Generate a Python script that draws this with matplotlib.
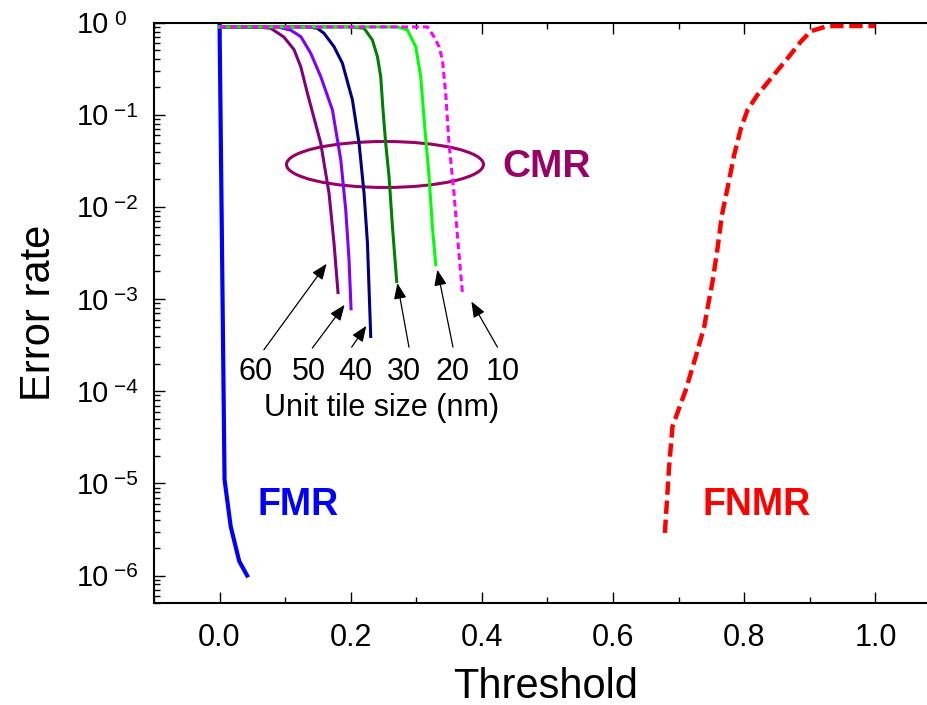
import matplotlib
matplotlib.use("Agg")
import matplotlib.pyplot as plt
from matplotlib.patches import Ellipse
from matplotlib.ticker import MultipleLocator, LogLocator, NullFormatter

plt.rcParams["font.family"] = ["Liberation Sans", "DejaVu Sans"]

# FMR (false match rate)
fmr_thr = [0.0, 0.0076, 0.017, 0.030, 0.042]
fmr_err = [0.95, 1.1e-5, 3.4e-6, 1.43e-6, 1.0e-6]

# FNMR (false non-match rate)
fnmr_thr = [0.679, 0.6855, 0.6906, 0.711, 0.7262, 0.739, 0.743, 0.7517, 0.7593,
            0.766, 0.7745, 0.7846, 0.795, 0.805, 0.820, 0.843, 0.866, 0.886,
            0.9016, 0.927, 1.0]
fnmr_err = [2.9e-6, 1.53e-5, 4.15e-5, 1.04e-4, 2.4e-4, 5.0e-4, 7.3e-4, 1.55e-3,
            3.57e-3, 8.2e-3, 0.016, 0.0367, 0.0716, 0.113, 0.164, 0.26, 0.41,
            0.62, 0.81, 0.92, 0.92]

# CMR for each unit tile size
cmr60_thr = [0.0, 0.0628, 0.078, 0.098, 0.1136, 0.1238, 0.134, 0.1543, 0.1669, 0.1745, 0.1806]
cmr60_err = [0.9, 0.89, 0.87, 0.70, 0.51, 0.333, 0.171, 0.0492, 0.0141, 0.00405, 0.00118]

cmr50_thr = [0.0, 0.0883, 0.1085, 0.124, 0.139, 0.1543, 0.1721, 0.1848, 0.1924, 0.1974, 0.2005]
cmr50_err = [0.9, 0.90, 0.83, 0.705, 0.466, 0.26, 0.113, 0.0325, 0.0093, 0.00267, 7.85e-4]

cmr40_thr = [0.0, 0.134, 0.1492, 0.1593, 0.1745, 0.1873, 0.2026, 0.2127, 0.2203, 0.2255, 0.2305]
cmr40_err = [0.9, 0.90, 0.87, 0.767, 0.549, 0.363, 0.145, 0.0492, 0.0141, 0.00405, 3.93e-4]

cmr30_thr = [0.0, 0.2, 0.2203, 0.233, 0.2407, 0.2457, 0.2492, 0.2533, 0.2584, 0.2636, 0.2701]
cmr30_err = [0.9, 0.9, 0.87, 0.65, 0.428, 0.26, 0.113, 0.0492, 0.0214, 0.00613, 1.55e-3]

cmr20_thr = [0.0, 0.2712, 0.2864, 0.2991, 0.3067, 0.3128, 0.3194, 0.3245, 0.3296]
cmr20_err = [0.9, 0.90, 0.834, 0.549, 0.26, 0.0745, 0.0214, 0.00613, 2.36e-3]

cmr10_thr = [0.0, 0.2808, 0.3169, 0.327, 0.3346, 0.3398, 0.3448, 0.3498, 0.3575, 0.3636, 0.3703]
cmr10_err = [0.9, 0.9, 0.9, 0.705, 0.549, 0.394, 0.171, 0.0492, 0.0141, 0.00405, 1.18e-3]

tile_sizes = ["60", "50", "40", "30", "20", "10"]
tile_colors = ["#800080", "#8000ff", "#000080", "#008000", "#00ff00", "#ff00ff"]

# arrows pointing from the size labels to the curve ends
arrow_tip_x = [0.1632, 0.1907, 0.2238, 0.2711, 0.3321, 0.384]
arrow_tip_y = [2.42e-3, 8.67e-4, 5.13e-4, 1.49e-3, 2.08e-3, 9.42e-4]
arrow_tail_x = [0.0676, 0.1414, 0.2014, 0.2888, 0.3559, 0.4237]
arrow_tail_y = [2.82e-4, 2.94e-4, 3.01e-4, 3.01e-4, 3.01e-4, 3.01e-4]
label_x = [0.0554, 0.1358, 0.2075, 0.2812, 0.355, 0.4313]

cmr_color = "#990066"

fig = plt.figure(figsize=(9.27, 7.05), dpi=100)
ax = fig.add_axes([0.1661, 0.1443, 0.849, 0.8235])

ax.plot(fmr_thr, fmr_err, color="#0000ff", lw=3)
ax.plot(fnmr_thr, fnmr_err, color="#ff0000", lw=3.2, dashes=(3, 1.3))

cmr_curves = [(cmr60_thr, cmr60_err), (cmr50_thr, cmr50_err), (cmr40_thr, cmr40_err),
              (cmr30_thr, cmr30_err), (cmr20_thr, cmr20_err), (cmr10_thr, cmr10_err)]
for (t, e), c, size in zip(cmr_curves, tile_colors, tile_sizes):
    if size == "10":
        ax.plot(t, e, color=c, lw=2.2, dashes=(2.2, 1.3))
    else:
        ax.plot(t, e, color=c, lw=2.2)

ax.set_yscale("log")
ax.set_xlim(-0.1, 1.1)
ax.set_ylim(5e-7, 1)

ax.xaxis.set_major_locator(MultipleLocator(0.2))
ax.xaxis.set_minor_locator(MultipleLocator(0.1))
ax.yaxis.set_major_locator(LogLocator(base=10, numticks=20))
ax.yaxis.set_minor_locator(LogLocator(base=10, subs=range(2, 10), numticks=20))
ax.yaxis.set_minor_formatter(NullFormatter())
ax.xaxis.set_major_formatter(plt.FuncFormatter(lambda v, p: f"{v:.1f}"))

ax.tick_params(which="both", direction="in", top=True, right=True, width=1.0)
ax.tick_params(which="major", length=8)
ax.tick_params(which="minor", length=4.3)
ax.tick_params(axis="x", labelsize=22, pad=14.5)
ax.tick_params(axis="y", labelleft=False)
for sp in ax.spines.values():
    sp.set_linewidth(1.5)

# y tick labels as 10 with raised exponent
for e in range(0, -7, -1):
    ax.annotate("10", xy=(0, 10.0 ** e), xycoords=("axes fraction", "data"),
                xytext=(-32.4, -7.5), textcoords="offset points",
                ha="right", va="baseline", fontsize=21)
    sup = "0" if e == 0 else "\u2212" + str(-e)
    ax.annotate(sup, xy=(0, 10.0 ** e), xycoords=("axes fraction", "data"),
                xytext=(-28.8, -1.3), textcoords="offset points",
                ha="left", va="baseline", fontsize=15)

ax.set_xlabel("Threshold", fontsize=30)
ax.xaxis.set_label_coords(0.4978, -0.109)
ax.xaxis.label.set_verticalalignment("top")
ax.set_ylabel("Error rate", fontsize=30)
ax.yaxis.set_label_coords(-0.121, 0.4995)

ax.add_patch(Ellipse((0.2935, 0.7558), 0.2503, 0.0792, transform=ax.transAxes,
                     fill=False, edgecolor=cmr_color, lw=2.2))
ax.text(0.4313, 0.0214, "CMR", color=cmr_color, fontsize=28, fontweight="bold",
        ha="left", va="baseline")
ax.text(0.0584, 4.58e-6, "FMR", color="#0000ff", fontsize=27, fontweight="bold",
        ha="left", va="baseline")
ax.text(0.7364, 4.58e-6, "FNMR", color="#ff0000", fontsize=27, fontweight="bold",
        ha="left", va="baseline")

for tx, ty, sx, sy in zip(arrow_tip_x, arrow_tip_y, arrow_tail_x, arrow_tail_y):
    ax.annotate("", xy=(tx, ty), xytext=(sx, sy),
                arrowprops=dict(arrowstyle="-|>,head_length=0.5,head_width=0.2",
                                color="k", lw=0.9, mutation_scale=19,
                                shrinkA=0, shrinkB=0))
for lx, size in zip(label_x, tile_sizes):
    ax.text(lx, 1.33e-4, size, fontsize=22, ha="center", va="baseline")
ax.text(0.2476, 5.33e-5, "Unit tile size (nm)", fontsize=22, ha="center", va="baseline")

fig.savefig("out.png", dpi=100)
plt.close(fig)
